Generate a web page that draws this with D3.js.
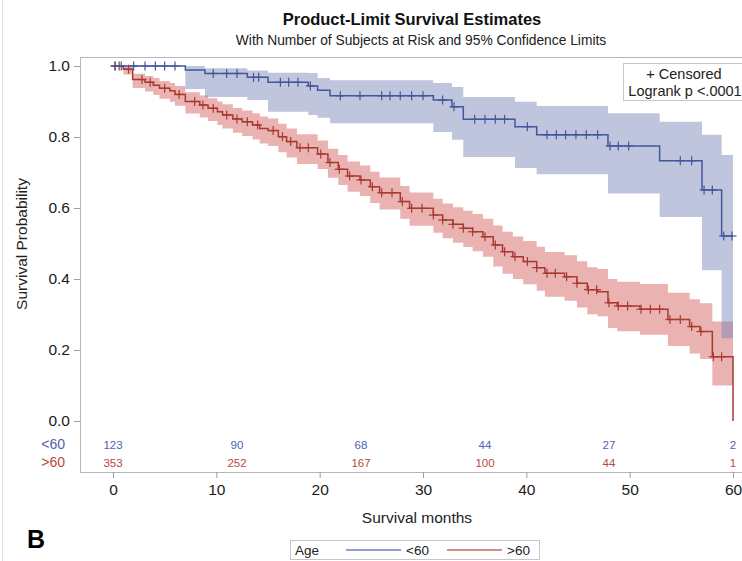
<!DOCTYPE html>
<html>
<head>
<meta charset="utf-8">
<script src="https://cdn.jsdelivr.net/npm/d3@7/dist/d3.min.js"></script>
<style>
  html, body { margin: 0; padding: 0; background: #fff; }
  svg { display: block; font-family: "Liberation Sans", Arial, sans-serif; }
</style>
</head>
<body>
<svg id="chart" width="742" height="561"></svg>
<script>
// Kaplan-Meier estimates by age group: step start times (months), survival, 95% CI
const youngTimes = [0, 7.0, 8.9, 13.0, 15.0, 18.9, 19.8, 21.0, 31.0, 32.8, 33.9, 38.9, 41.0, 47.9, 52.9, 57.0, 58.9];
const youngSurv  = [1.0, 0.989, 0.979, 0.968, 0.954, 0.944, 0.932, 0.916, 0.904, 0.885, 0.850, 0.829, 0.806, 0.775, 0.733, 0.651, 0.521];
const youngUpper = [1.0, 1.0, 0.994, 0.987, 0.981, 0.980, 0.966, 0.960, 0.952, 0.941, 0.913, 0.899, 0.887, 0.867, 0.843, 0.806, 0.749];
const youngLower = [1.0, 0.935, 0.913, 0.904, 0.871, 0.862, 0.854, 0.839, 0.814, 0.792, 0.744, 0.713, 0.695, 0.641, 0.575, 0.425, 0.233];
const youngCensored = [0.2, 0.8, 2.0, 3.1, 4.1, 5.0, 6.0, 9.7, 11.0, 12.0, 13.6, 14.1, 16.2, 17.0, 17.9, 19.1,
  22.0, 23.9, 26.0, 26.8, 27.8, 28.9, 30.0, 31.9, 33.0, 35.0, 36.0, 37.0, 37.9, 40.1, 42.0, 42.9, 43.8, 44.8,
  45.8, 46.9, 48.1, 48.9, 49.9, 54.9, 56.0, 57.2, 58.0, 59.1, 59.9];

const oldTimes = [0, 1.0, 1.9, 3.1, 3.9, 4.5, 5.5, 6.0, 7.0, 8.4, 9.2, 10.1, 10.6, 11.6, 12.5, 13.5, 14.2, 15.0,
  16.0, 16.8, 17.8, 19.8, 20.8, 21.8, 22.7, 23.9, 24.9, 25.8, 27.8, 28.7, 31.0, 31.9, 32.9, 33.9, 34.8, 35.8,
  36.8, 37.7, 38.7, 39.7, 41.0, 41.8, 43.7, 44.9, 45.9, 46.9, 47.9, 48.8, 51.0, 53.7, 55.8, 56.8, 58.0];
const oldSurv = [1.0, 0.991, 0.962, 0.954, 0.946, 0.937, 0.930, 0.920, 0.900, 0.890, 0.881, 0.871, 0.862, 0.851,
  0.843, 0.834, 0.824, 0.818, 0.801, 0.787, 0.770, 0.752, 0.728, 0.709, 0.690, 0.679, 0.660, 0.643, 0.618, 0.599,
  0.580, 0.566, 0.554, 0.543, 0.533, 0.519, 0.496, 0.477, 0.463, 0.449, 0.432, 0.416, 0.406, 0.388, 0.370, 0.364,
  0.333, 0.324, 0.315, 0.286, 0.266, 0.252, 0.181];
const oldUpper = [1.0, 0.998, 0.978, 0.972, 0.966, 0.958, 0.952, 0.944, 0.926, 0.917, 0.909, 0.900, 0.892, 0.882,
  0.875, 0.867, 0.858, 0.852, 0.837, 0.824, 0.808, 0.790, 0.767, 0.749, 0.731, 0.720, 0.702, 0.686, 0.662, 0.644,
  0.626, 0.613, 0.602, 0.592, 0.583, 0.570, 0.551, 0.533, 0.520, 0.507, 0.491, 0.476, 0.467, 0.450, 0.433, 0.428,
  0.400, 0.392, 0.386, 0.361, 0.343, 0.332, 0.280];
const oldLower = [1.0, 0.976, 0.938, 0.928, 0.918, 0.908, 0.899, 0.888, 0.866, 0.855, 0.845, 0.834, 0.824, 0.812,
  0.803, 0.793, 0.782, 0.775, 0.757, 0.742, 0.724, 0.710, 0.685, 0.665, 0.646, 0.634, 0.614, 0.596, 0.570, 0.550,
  0.530, 0.515, 0.502, 0.490, 0.478, 0.463, 0.435, 0.415, 0.400, 0.385, 0.367, 0.350, 0.339, 0.320, 0.301, 0.295,
  0.262, 0.253, 0.243, 0.211, 0.190, 0.175, 0.100];
const oldCensored = [0.2, 0.6, 1.5, 2.8, 3.6, 5.0, 6.4, 7.9, 8.7, 9.7, 11.0, 12.0, 13.0, 14.0, 15.5, 16.4, 17.2,
  18.1, 18.9, 20.1, 21.0, 21.9, 22.9, 24.0, 25.1, 26.0, 27.0, 28.0, 28.9, 29.9, 31.0, 31.9, 32.9, 33.9, 34.8,
  36.0, 37.0, 37.9, 38.9, 40.1, 41.0, 42.0, 42.8, 43.9, 44.9, 46.0, 46.8, 48.0, 48.9, 49.8, 51.1, 52.0, 52.9,
  53.9, 54.9, 56.0, 56.9, 58.1, 58.9];

const endTime = 60;

// Number at risk
const riskTimes = [0, 12, 24, 36, 48, 60];
const riskYoung = [123, 90, 68, 44, 27, 2];
const riskOld   = [353, 252, 167, 100, 44, 1];

const groupLabels = ["<60", ">60"];
const xTicks = [0, 10, 20, 30, 40, 50, 60];
const yTicks = [0, 0.2, 0.4, 0.6, 0.8, 1.0];

const blueLine = "#44569c", blueBand = "#6f7eb3";
const redLine = "#a83a30", redBand = "#d45c5c";
const blueText = "#4f63b0", redText = "#b8473d";

const svg = d3.select("#chart");

const x = d3.scaleLinear().domain([0, 60]).range([113, 733]);
const y = d3.scaleLinear().domain([0, 1]).range([421, 66]);

const frame = { left: 80, top: 57, right: 746, bottom: 472 };

// faint page edge at the left
svg.append("line").attr("x1", 2.5).attr("x2", 2.5).attr("y1", 0).attr("y2", 561)
  .attr("stroke", "#e2e2e2").attr("stroke-width", 1);

// titles
svg.append("text").attr("x", 412).attr("y", 25).attr("text-anchor", "middle")
  .attr("font-size", 16.5).attr("font-weight", "bold").attr("fill", "#111")
  .text("Product-Limit Survival Estimates");
svg.append("text").attr("x", 421).attr("y", 45).attr("text-anchor", "middle")
  .attr("font-size", 13.8).attr("fill", "#222")
  .text("With Number of Subjects at Risk and 95% Confidence Limits");

// plot frame
svg.append("rect").attr("x", frame.left + 0.5).attr("y", frame.top + 0.5)
  .attr("width", frame.right - frame.left).attr("height", frame.bottom - frame.top)
  .attr("fill", "none").attr("stroke", "#b4b8bd").attr("stroke-width", 1);

function stepPoints(times, vals) {
  const pts = times.map((t, i) => ({ t, v: vals[i] }));
  pts.push({ t: endTime, v: vals[vals.length - 1] });
  return pts;
}
function bandPoints(times, up, lo, start) {
  const pts = [];
  times.forEach((t, i) => { if (t >= start) pts.push({ t, u: up[i], l: lo[i] }); });
  pts.push({ t: endTime, u: up[up.length - 1], l: lo[lo.length - 1] });
  return pts;
}
function survAt(times, vals, t) {
  const i = Math.max(0, d3.bisectRight(times, t) - 1);
  return vals[i];
}

const area = d3.area().curve(d3.curveStepAfter)
  .x(d => x(d.t)).y0(d => y(d.l)).y1(d => y(d.u));
const line = d3.line().curve(d3.curveStepAfter)
  .x(d => x(d.t)).y(d => y(d.v));

// confidence bands
svg.append("path").datum(bandPoints(oldTimes, oldUpper, oldLower, 1.0))
  .attr("d", area).attr("fill", redBand).attr("fill-opacity", 0.47);
svg.append("path").datum(bandPoints(youngTimes, youngUpper, youngLower, 7.0))
  .attr("d", area).attr("fill", blueBand).attr("fill-opacity", 0.45);

// survival curves
const oldPts = stepPoints(oldTimes, oldSurv);
oldPts.push({ t: endTime, v: 0 });
svg.append("path").datum(oldPts).attr("d", line)
  .attr("fill", "none").attr("stroke", redLine).attr("stroke-width", 1.5);
svg.append("path").datum(stepPoints(youngTimes, youngSurv)).attr("d", line)
  .attr("fill", "none").attr("stroke", blueLine).attr("stroke-width", 1.5);

// censored observations
function censorMarks(times, vals, cens, color) {
  const g = svg.append("g").attr("stroke", color).attr("stroke-width", 1.2);
  cens.forEach(t => {
    const cx = x(t), cy = y(survAt(times, vals, t));
    g.append("line").attr("x1", cx - 4.5).attr("x2", cx + 4.5).attr("y1", cy).attr("y2", cy);
    g.append("line").attr("x1", cx).attr("x2", cx).attr("y1", cy - 4.5).attr("y2", cy + 4.5);
  });
}
censorMarks(oldTimes, oldSurv, oldCensored, redLine);
censorMarks(youngTimes, youngSurv, youngCensored, blueLine);

// axes
const yAxis = svg.append("g").attr("transform", `translate(${frame.left},0)`)
  .call(d3.axisLeft(y).tickValues(yTicks).tickFormat(d3.format(".1f")).tickSize(6).tickPadding(4));
const xAxis = svg.append("g").attr("transform", `translate(0,${frame.bottom})`)
  .call(d3.axisBottom(x).tickValues(xTicks).tickSize(6).tickPadding(6));
[yAxis, xAxis].forEach(a => {
  a.select(".domain").remove();
  a.selectAll(".tick line").attr("stroke", "#9a9ea3");
  a.selectAll(".tick text").attr("fill", "#1a1a1a").attr("font-size", 15.5)
    .attr("font-family", "\"Liberation Sans\", Arial, sans-serif");
});

svg.append("text").attr("transform", "translate(27,244) rotate(-90)")
  .attr("text-anchor", "middle").attr("font-size", 15.5).attr("fill", "#222")
  .text("Survival Probability");
svg.append("text").attr("x", 417).attr("y", 523).attr("text-anchor", "middle")
  .attr("font-size", 15.5).attr("fill", "#222").text("Survival months");

// number-at-risk table
const riskRows = [
  { label: groupLabels[0], vals: riskYoung, color: blueText, yy: 449 },
  { label: groupLabels[1], vals: riskOld, color: redText, yy: 467 }
];
riskRows.forEach(r => {
  svg.append("text").attr("x", 65).attr("y", r.yy).attr("text-anchor", "end")
    .attr("font-size", 14).attr("fill", r.color).text(r.label);
  svg.append("g").selectAll("text").data(riskTimes).join("text")
    .attr("x", d => x(d)).attr("y", r.yy - 0.5).attr("text-anchor", "middle")
    .attr("font-size", 11.5).attr("fill", r.color)
    .text((d, i) => r.vals[i]);
});

// inset legend
const inset = svg.append("g");
inset.append("rect").attr("x", 623.5).attr("y", 63.5).attr("width", 124).attr("height", 37)
  .attr("fill", "#fff").attr("stroke", "#c4c6c9");
inset.append("text").attr("x", 684).attr("y", 79).attr("text-anchor", "middle")
  .attr("font-size", 14.5).attr("fill", "#222").text("+ Censored");
inset.append("text").attr("x", 685).attr("y", 96).attr("text-anchor", "middle")
  .attr("font-size", 14.5).attr("fill", "#222").text("Logrank p <.0001");

// panel letter
svg.append("text").attr("x", 27).attr("y", 548).attr("font-size", 25)
  .attr("font-weight", "bold").attr("fill", "#000").text("B");

// group legend
const leg = svg.append("g");
leg.append("rect").attr("x", 290.5).attr("y", 540.5).attr("width", 249).attr("height", 19)
  .attr("fill", "#fff").attr("stroke", "#c4c6c9");
leg.append("text").attr("x", 295).attr("y", 555).attr("font-size", 13.5).attr("fill", "#222").text("Age");
const legItems = [
  { label: groupLabels[0], color: blueLine, x0: 346 },
  { label: groupLabels[1], color: redLine, x0: 447 }
];
legItems.forEach(it => {
  leg.append("line").attr("x1", it.x0).attr("x2", it.x0 + 55).attr("y1", 550).attr("y2", 550)
    .attr("stroke", it.color).attr("stroke-width", 1.5).attr("stroke-opacity", 0.75);
  leg.append("text").attr("x", it.x0 + 60).attr("y", 555).attr("font-size", 13.5)
    .attr("fill", "#222").text(it.label);
});
</script>
</body>
</html>
